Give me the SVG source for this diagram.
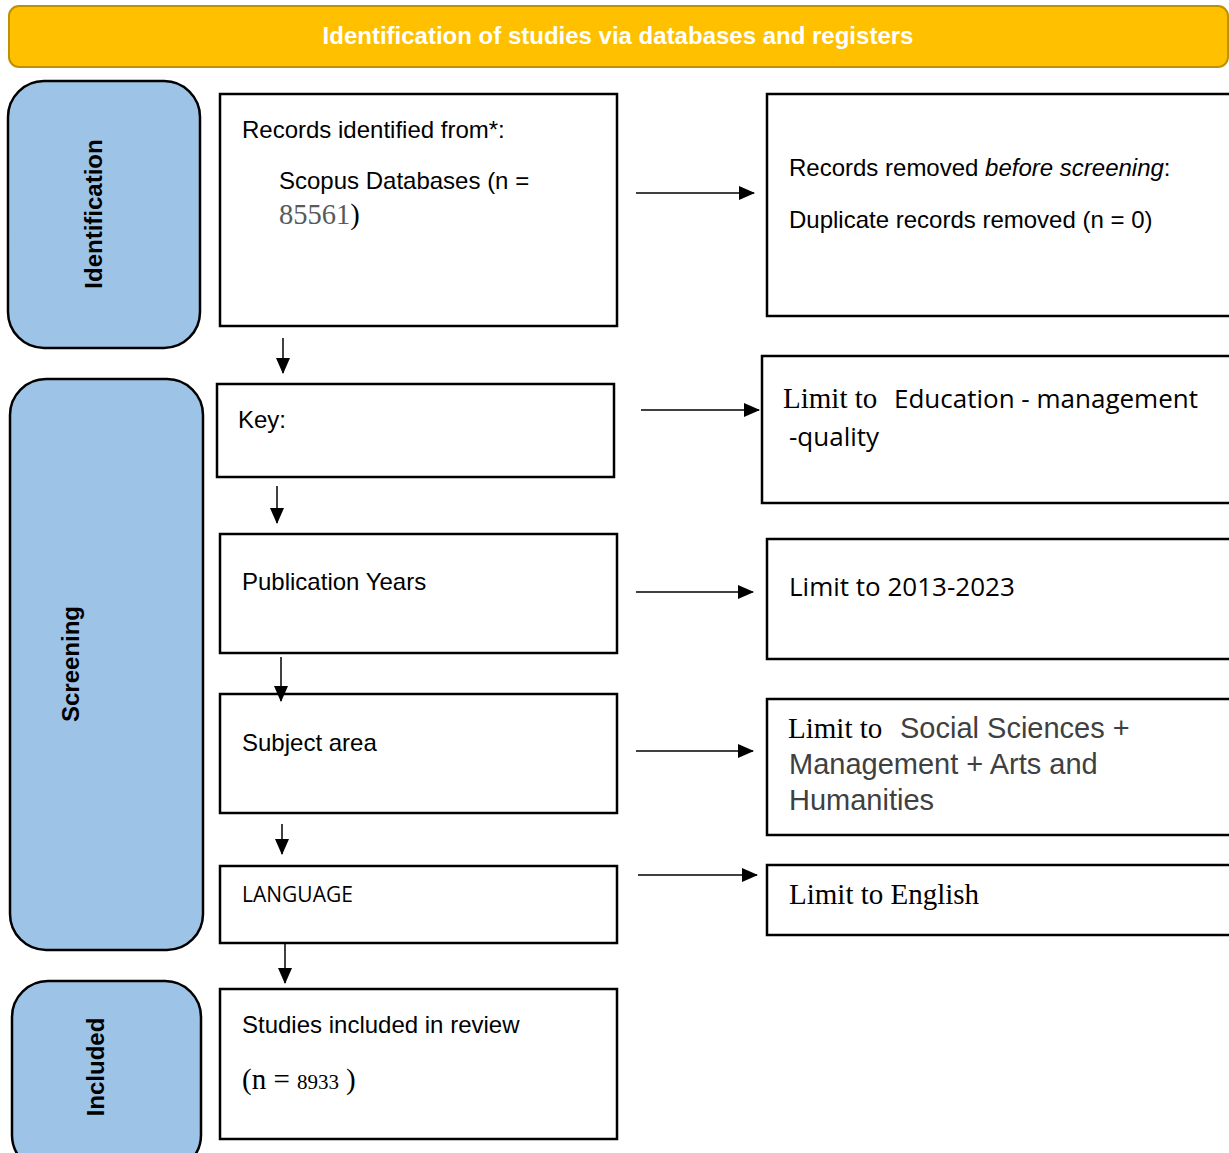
<svg xmlns="http://www.w3.org/2000/svg" width="1229" height="1153" viewBox="0 0 1229 1153">
<style>
.box{fill:#fff;stroke:#000;stroke-width:2.5}
.side{fill:#9DC3E6;stroke:#000;stroke-width:2.5}
.sans{font-family:"Liberation Sans",Arial,sans-serif;font-size:24px;fill:#000}
.cal{font-family:"Open Sans","Noto Sans",sans-serif;fill:#000}
.ser{font-family:"Liberation Serif","Times New Roman",serif;fill:#000}
.gray{font-family:"Liberation Sans",Arial,sans-serif;font-size:29px;fill:#404040}
.side-t{font-family:"Liberation Sans",Arial,sans-serif;font-size:24px;font-weight:bold;fill:#000;text-anchor:middle}
.conn{stroke:#000;stroke-width:1.5;fill:none;marker-end:url(#ah)}
</style>
<defs>
<marker id="ah" markerUnits="userSpaceOnUse" markerWidth="16" markerHeight="16" viewBox="0 0 16 16" refX="15" refY="8" orient="auto">
<path d="M0,1 L16,8 L0,15 Z" fill="#000"/>
</marker>
</defs>
<rect width="1229" height="1153" fill="#fff"/>

<g id="header">
<rect x="9" y="6" width="1219" height="61" rx="10" fill="#FFC000" stroke="#BF9000" stroke-width="2"/>
<text x="618" y="44" text-anchor="middle" font-family="Liberation Sans,Arial,sans-serif" font-size="24" font-weight="bold" fill="#fff">Identification of studies via databases and registers</text>
</g>

<g id="phase-identification">
<rect class="side" x="8" y="81" width="192" height="267" rx="36"/>
<text class="side-t" transform="translate(102,214) rotate(-90)">Identification</text>
</g>
<g id="phase-screening">
<rect class="side" x="10" y="379" width="193" height="571" rx="36"/>
<text class="side-t" transform="translate(79,664) rotate(-90)">Screening</text>
</g>
<g id="phase-included">
<rect class="side" x="12" y="981" width="189" height="190" rx="36"/>
<text class="side-t" transform="translate(104,1067) rotate(-90)">Included</text>
</g>

<g id="records-identified">
<rect class="box" x="220" y="94" width="397" height="232"/>
<text class="sans" x="242" y="138">Records identified from*:</text>
<text class="sans" x="279" y="189">Scopus Databases (n =</text>
<text x="279" y="224" class="ser" font-size="28.5"><tspan fill="#595959">85561</tspan>)</text>
</g>

<g id="records-removed">
<rect class="box" x="767" y="94" width="470" height="222"/>
<text class="sans" x="789" y="176">Records removed <tspan font-style="italic">before screening</tspan>:</text>
<text class="sans" x="789" y="228">Duplicate records removed (n = 0)</text>
</g>

<g id="key">
<rect class="box" x="217" y="384" width="397" height="93"/>
<text class="sans" x="238" y="428">Key:</text>
</g>

<g id="limit-education">
<rect class="box" x="762" y="356" width="475" height="147"/>
<text x="783" y="408"><tspan class="ser" font-size="29">Limit to</tspan><tspan x="894" class="cal" font-size="26">Education - management</tspan></text>
<text class="cal" font-size="26" x="789" y="446">-quality</text>
</g>

<g id="publication-years">
<rect class="box" x="220" y="534" width="397" height="119"/>
<text class="sans" x="242" y="590">Publication Years</text>
</g>

<g id="limit-years">
<rect class="box" x="767" y="539" width="470" height="120"/>
<text class="cal" font-size="26" x="789" y="596">Limit to 2013-2023</text>
</g>

<g id="subject-area">
<rect class="box" x="220" y="694" width="397" height="119"/>
<text class="sans" x="242" y="751">Subject area</text>
</g>

<g id="limit-subject">
<rect class="box" x="767" y="699" width="470" height="136"/>
<text x="788" y="738"><tspan class="ser" font-size="29">Limit to</tspan><tspan x="900" class="gray">Social Sciences +</tspan></text>
<text class="gray" x="789" y="774">Management + Arts and</text>
<text class="gray" x="789" y="810">Humanities</text>
</g>

<g id="language">
<rect class="box" x="220" y="866" width="397" height="77"/>
<text class="cal" font-size="21" x="242" y="902">LANGUAGE</text>
</g>

<g id="limit-english">
<rect class="box" x="767" y="865" width="470" height="70"/>
<text class="ser" font-size="29" x="789" y="904">Limit to English</text>
</g>

<g id="studies-included">
<rect class="box" x="220" y="989" width="397" height="150"/>
<text class="sans" x="242" y="1033">Studies included in review</text>
<text x="242" y="1089" class="ser"><tspan font-size="29">(n =</tspan><tspan x="297" font-size="21">8933</tspan><tspan x="346" font-size="29">)</tspan></text>
</g>

<g id="connectors">
<line class="conn" x1="283" y1="338" x2="283" y2="373"/>
<line class="conn" x1="277" y1="486" x2="277" y2="523"/>
<line class="conn" x1="281" y1="657" x2="281" y2="701"/>
<line class="conn" x1="282" y1="824" x2="282" y2="854"/>
<line class="conn" x1="285" y1="944" x2="285" y2="983"/>
<line class="conn" x1="636" y1="193" x2="754" y2="193"/>
<line class="conn" x1="641" y1="410" x2="759" y2="410"/>
<line class="conn" x1="636" y1="592" x2="753" y2="592"/>
<line class="conn" x1="636" y1="751" x2="753" y2="751"/>
<line class="conn" x1="638" y1="875" x2="757" y2="875"/>
</g>
</svg>
